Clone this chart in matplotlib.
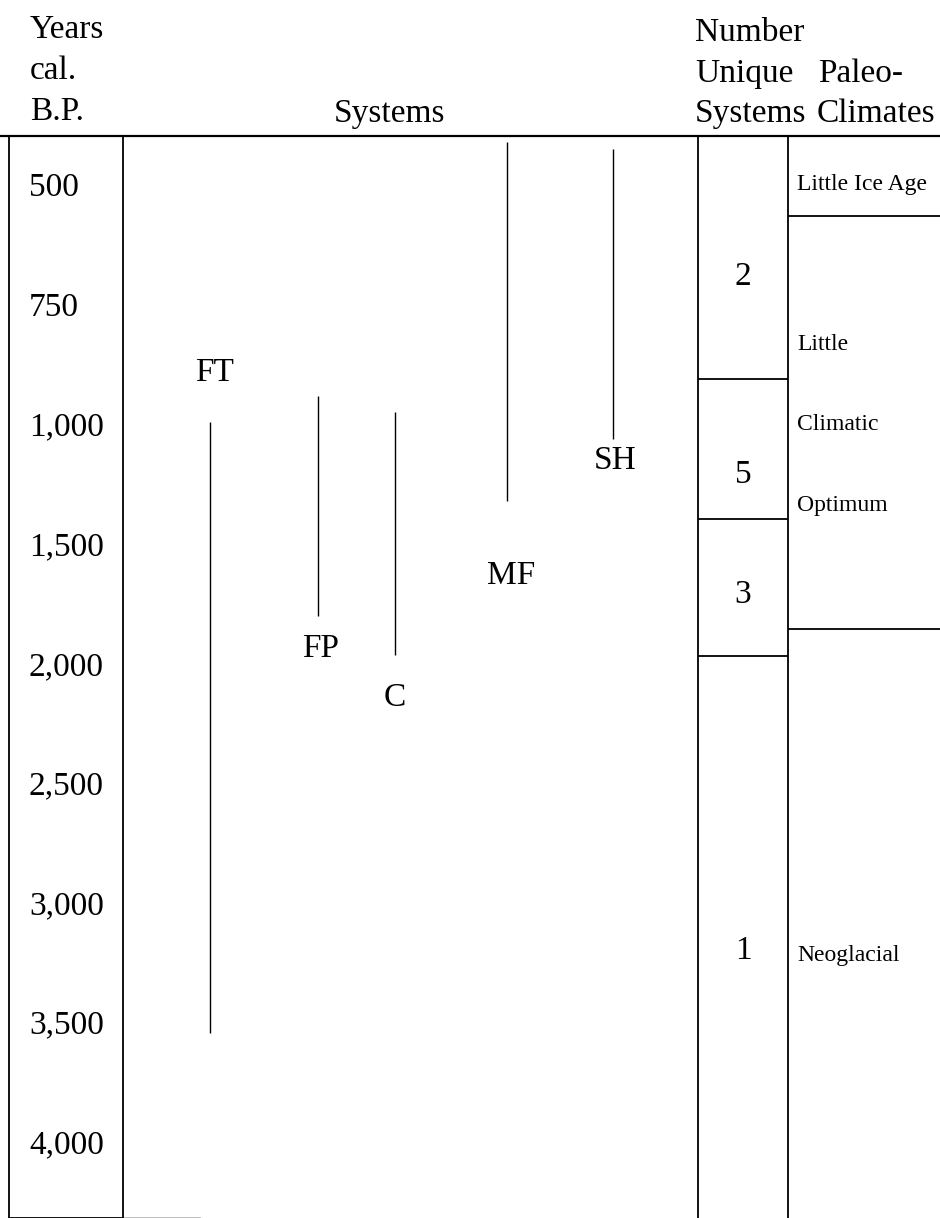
import numpy as np
import matplotlib
matplotlib.use('Agg')
import matplotlib.pyplot as plt
from matplotlib.transforms import offset_copy

plt.rcParams['font.family'] = ['Liberation Serif', 'DejaVu Serif']

# Time axis (years cal. B.P.) - ticks are evenly spaced, not linear in years
tick_years = [500, 750, 1000, 1500, 2000, 2500, 3000, 3500, 4000]
scale_years = [0] + tick_years + [4500]
scale_pos = [-2] + list(range(len(tick_years))) + [9]

# System ranges (start, end in years cal. B.P.)
systems = ['FT', 'FP', 'C', 'MF', 'SH']
sys_start = [995, 940, 975, 410, 425]
sys_end = [3545, 1800, 1965, 1320, 1060]
sys_label_year = [885, 1925, 2130, 1620, 1140]

# Number of unique systems per period
period_bounds = [905, 1395, 1970]
period_counts = ['2', '5', '3', '1']
count_years = [685, 1200, 1700, 3190]

# Paleoclimate periods
climate_bounds = [565, 1855]
climate_labels = ['Little Ice Age', 'Little', 'Climatic', 'Optimum', 'Neoglacial']
climate_label_years = [492, 826, 995, 1326, 3206]

fig = plt.figure(figsize=(9.4, 12.18), dpi=100)
ax = fig.add_axes([0, 0, 1, 1])
ax.set_yscale('function', functions=(lambda y: np.interp(y, scale_years, scale_pos),
                                     lambda p: np.interp(p, scale_pos, scale_years)))
ax.set_xlim(0, 940)
ax.set_ylim(4318, 113)
ax.axis('off')

# text sits a few pixels lower than its bbox centre would put it
tx = offset_copy(ax.transData, fig=fig, y=-3, units='dots')

top, bottom = 398, 4316
lw = 1.3
# frame
ax.plot([0, 940], [top, top], color='black', lw=1.6)
ax.plot([9, 9], [top, bottom], color='black', lw=lw)
ax.plot([9, 123], [bottom, bottom], color='black', lw=lw)
ax.plot([123, 200], [bottom, bottom], color='#bbbbbb', lw=lw)
for x in [123, 698, 788]:
    ax.plot([x, x], [top, bottom], color='black', lw=lw)

# tick labels
for yr in tick_years:
    ax.text(29, yr, f'{yr:,}', fontsize=24, ha='left', va='center', transform=tx)

# systems
sys_x = [210, 318, 395, 507, 613]
lab_x = [215, 321, 395, 511, 615]
for name, x, lx, s, e, ly in zip(systems, sys_x, lab_x, sys_start, sys_end, sys_label_year):
    ax.vlines(x, s, e, color='black', lw=1.0)
    ax.text(lx, ly, name, fontsize=24, ha='center', va='center', transform=tx)

# unique systems column
ax.hlines(period_bounds, 698, 788, color='black', lw=lw)
for c, yr in zip(period_counts, count_years):
    ax.text(743, yr, c, fontsize=24, ha='center', va='center', transform=tx)

# paleoclimate column
ax.hlines(climate_bounds, 788, 940, color='black', lw=lw)
for lab, yr in zip(climate_labels, climate_label_years):
    ax.text(797, yr, lab, fontsize=17, ha='left', va='center', transform=tx)

# headers
hdr = dict(fontsize=24, ha='left', va='center')
fig.text(30 / 940, 1 - 30 / 1218, 'Years', **hdr)
fig.text(30 / 940, 1 - 71 / 1218, 'cal.', **hdr)
fig.text(30 / 940, 1 - 112 / 1218, 'B.P.', **hdr)
fig.text(389 / 940, 1 - 114 / 1218, 'Systems', fontsize=24, ha='center', va='center')
fig.text(695 / 940, 1 - 33 / 1218, 'Number', **hdr)
fig.text(695 / 940, 1 - 74 / 1218, 'Unique', **hdr)
fig.text(818 / 940, 1 - 74 / 1218, 'Paleo-', **hdr)
fig.text(695 / 940, 1 - 114 / 1218, 'Systems', **hdr)
fig.text(817 / 940, 1 - 114 / 1218, 'Climates', **hdr)

fig.savefig('out.png', dpi=100, facecolor='white')
